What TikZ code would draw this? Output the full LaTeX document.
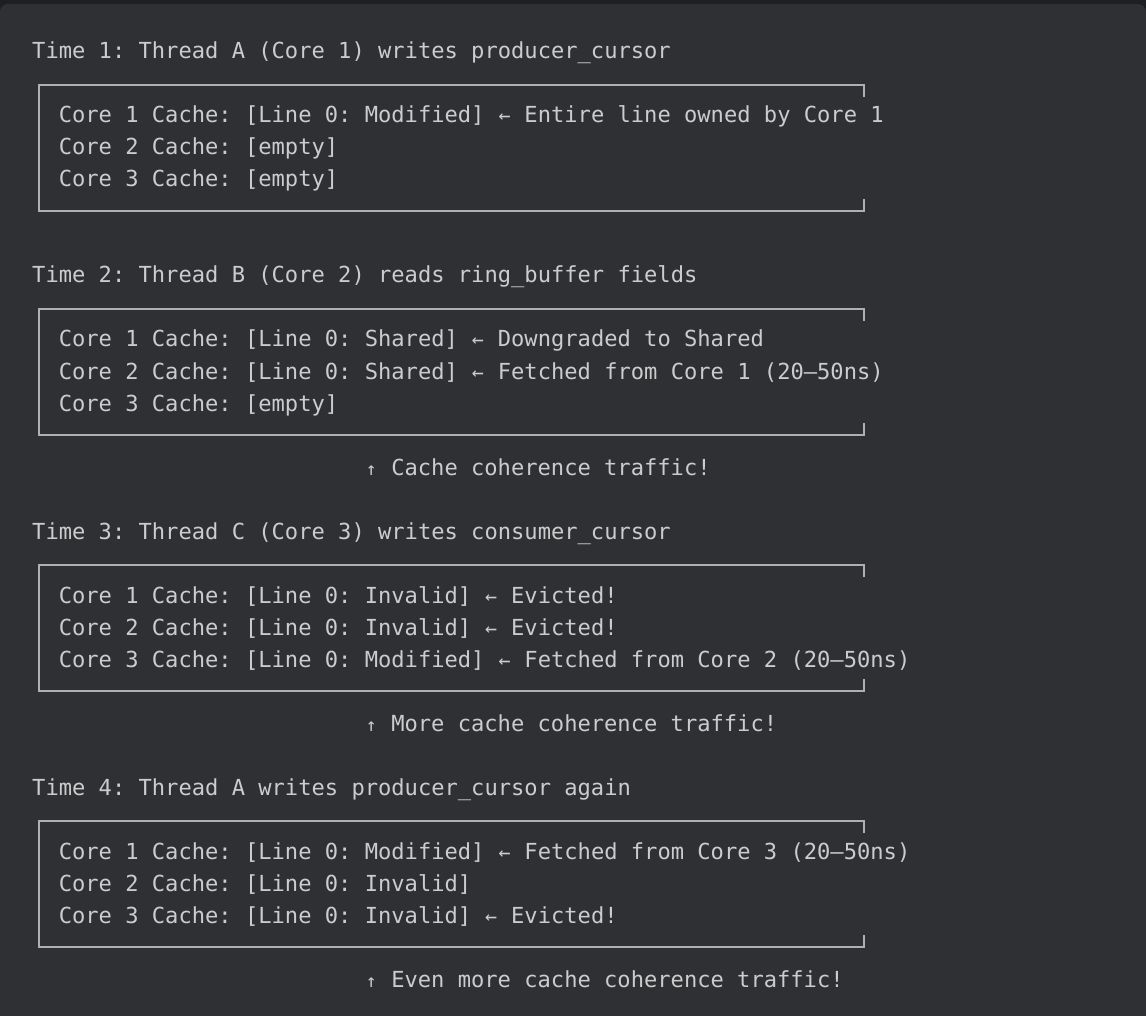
\documentclass[tikz,border=0pt]{standalone}
\usepackage{fontspec}
\newfontfamily\codefont{DejaVu Sans Mono}
\frenchspacing
\definecolor{panelbg}{RGB}{47,48,52}
\definecolor{outerbg}{RGB}{30,31,34}
\definecolor{codefg}{RGB}{204,204,204}
\definecolor{boxline}{RGB}{176,176,178}
\newcommand{\larr}{\makebox[0.602em]{\fontsize{20}{20}\selectfont ←}}
\newcommand{\uarr}{\makebox[0.602em]{\fontsize{18}{18}\selectfont ↑}}
\tikzset{
  codeline/.style={anchor=base west, inner sep=0pt, text=codefg,
    font=\codefont\frenchspacing\fontsize{22.1}{32}\selectfont},
  cachebox/.style={draw=boxline, line width=1.6pt}
}
\begin{document}
\begin{tikzpicture}[x=1pt,y=-1pt]
        % backdrop and panel
        \fill[outerbg] (0,0) rectangle (1146,1016);
        \useasboundingbox (0,0) rectangle (1146,1016);
        \fill[panelbg, rounded corners=8pt] (0,4) rectangle (1146,1030);

        % Time 1
        \node[codeline] (time1) at (32,59) {Time 1: Thread A (Core 1) writes producer\_cursor};
        \draw[cachebox] (864,97) -- (864,85) -- (39,85) -- (39,211) -- (864,211) -- (864,199);
        \node[codeline] (c1one) at (58.6,123) {Core 1 Cache: [Line 0: Modified] \larr{} Entire line owned by Core 1};
        \node[codeline] (c1two) at (58.6,155) {Core 2 Cache: [empty]};
        \node[codeline] (c1three) at (58.6,187) {Core 3 Cache: [empty]};

        % Time 2
        \node[codeline] (time2) at (32,283) {Time 2: Thread B (Core 2) reads ring\_buffer fields};
        \draw[cachebox] (864,321) -- (864,309) -- (39,309) -- (39,435) -- (864,435) -- (864,423);
        \node[codeline] (c2one) at (58.6,347) {Core 1 Cache: [Line 0: Shared] \larr{} Downgraded to Shared};
        \node[codeline] (c2two) at (58.6,379) {Core 2 Cache: [Line 0: Shared] \larr{} Fetched from Core 1 (20–50ns)};
        \node[codeline] (c2three) at (58.6,411) {Core 3 Cache: [empty]};
        \node[codeline] (note2) at (364.5,475) {\uarr{} Cache coherence traffic!};

        % Time 3
        \node[codeline] (time3) at (32,539) {Time 3: Thread C (Core 3) writes consumer\_cursor};
        \draw[cachebox] (864,577) -- (864,565) -- (39,565) -- (39,691) -- (864,691) -- (864,679);
        \node[codeline] (c3one) at (58.6,603) {Core 1 Cache: [Line 0: Invalid] \larr{} Evicted!};
        \node[codeline] (c3two) at (58.6,635) {Core 2 Cache: [Line 0: Invalid] \larr{} Evicted!};
        \node[codeline] (c3three) at (58.6,667) {Core 3 Cache: [Line 0: Modified] \larr{} Fetched from Core 2 (20–50ns)};
        \node[codeline] (note3) at (364.5,731) {\uarr{} More cache coherence traffic!};

        % Time 4
        \node[codeline] (time4) at (32,795) {Time 4: Thread A writes producer\_cursor again};
        \draw[cachebox] (864,833) -- (864,821) -- (39,821) -- (39,947) -- (864,947) -- (864,935);
        \node[codeline] (c4one) at (58.6,859) {Core 1 Cache: [Line 0: Modified] \larr{} Fetched from Core 3 (20–50ns)};
        \node[codeline] (c4two) at (58.6,891) {Core 2 Cache: [Line 0: Invalid]};
        \node[codeline] (c4three) at (58.6,923) {Core 3 Cache: [Line 0: Invalid] \larr{} Evicted!};
        \node[codeline] (note4) at (364.5,987) {\uarr{} Even more cache coherence traffic!};
      \end{tikzpicture}
\end{document}
